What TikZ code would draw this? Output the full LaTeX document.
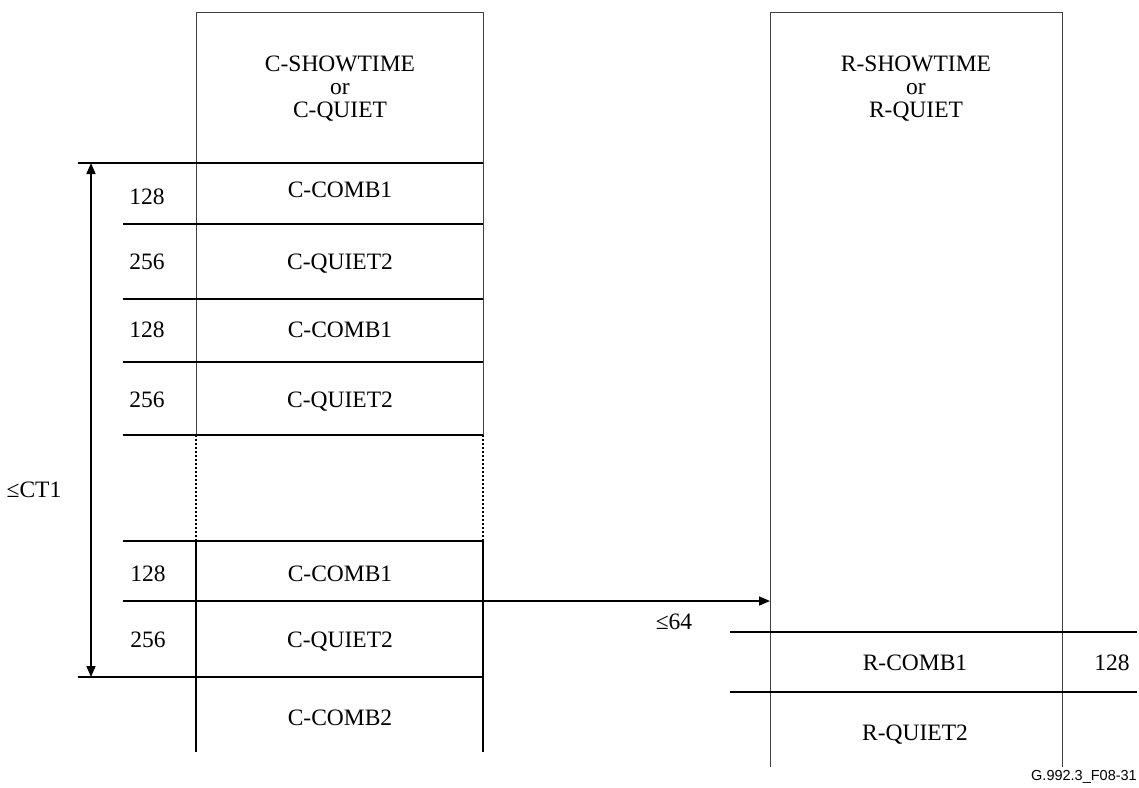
\documentclass[tikz,border=0pt]{standalone}
\usepackage{fontspec}
\setmainfont{Liberation Serif}
\newfontfamily\labelfont{Liberation Sans}
\usetikzlibrary{arrows.meta}
\begin{document}
\begin{tikzpicture}[x=1pt,y=-1pt,
  thinln/.style={line width=0.9pt,black!75},
  thickln/.style={line width=1.8pt},
  dotln/.style={line width=1.5pt,dash pattern=on 2pt off 2pt},
  txt/.style={inner sep=0pt,font=\fontsize{23.5}{23}\selectfont},
  hdr/.style={txt,align=center},
  arr/.style={line width=1.6pt,-{Triangle[length=11pt,width=9pt]}},
  darr/.style={line width=1.6pt,{Triangle[length=11pt,width=9pt]}-{Triangle[length=11pt,width=9pt]}}]
\useasboundingbox (0,0) rectangle (1139,787);
% left column frame
\coordinate (LTL) at (196,12);
\coordinate (LTR) at (483,12);
\draw[thinln] (196,435) -- (LTL) -- (LTR) -- (483,435);
\draw[dotln] (196,435) -- (196,541);
\draw[dotln] (483,435) -- (483,541);
\draw[thickln] (196,541) -- (196,752);
\draw[thickln] (483,541) -- (483,752);
% left horizontal lines
\draw[thickln] (78,163) -- (483,163);
\draw[thickln] (123,224) -- (483,224);
\draw[thickln] (123,299) -- (483,299);
\draw[thickln] (123,362) -- (483,362);
\draw[thickln] (123,435) -- (483,435);
\draw[thickln] (123,541) -- (483,541);
\draw[thickln] (78,677) -- (483,677);
% right column frame
\coordinate (RTL) at (770,12);
\coordinate (RTR) at (1062,12);
\draw[thinln] (770,767) -- (RTL) -- (RTR) -- (1062,767);
\draw[thickln] (730,632) -- (1137,632);
\draw[thickln] (730,692) -- (1137,692);
% headers
\node[hdr] (chdr) at (340,89) {C-SHOWTIME\\or\\C-QUIET};
\node[hdr] (rhdr) at (916,89) {R-SHOWTIME\\or\\R-QUIET};
% left labels
\node[txt] (n1) at (147,197) {128};
\node[txt] (c1) at (340,190) {C-COMB1};
\node[txt] (n2) at (147,262) {256};
\node[txt] (c2) at (340,264) {C-QUIET2};
\node[txt] (n3) at (147,330) {128};
\node[txt] (c3) at (340,330) {C-COMB1};
\node[txt] (n4) at (147,400) {256};
\node[txt] (c4) at (340,402) {C-QUIET2};
\node[txt] (n5) at (148,574) {128};
\node[txt] (c5) at (340,574) {C-COMB1};
\node[txt] (n6) at (148,640) {256};
\node[txt] (c6) at (340,642) {C-QUIET2};
\node[txt] (c7) at (340,718) {C-COMB2};
% right labels
\node[txt] (r1) at (915,663) {R-COMB1};
\node[txt] (rn1) at (1112,663) {128};
\node[txt] (r2) at (915,735) {R-QUIET2};
% dimension labels
\node[txt] (ct1) at (34,490) {≤CT1};
\node[txt] (d64) at (674,622) {≤64};
% arrows
\coordinate (atop) at (91,163);
\coordinate (abot) at (91,677);
\draw[darr] (atop) -- (abot);
\coordinate (hstart) at (123,601);
\coordinate (hend) at (770,601);
\draw[arr] (hstart) -- (hend);
% figure id
\node[inner sep=0pt,anchor=east,font=\labelfont\fontsize{14.5}{16}\selectfont] (fid) at (1137,777) {G.992.3\_F08-31};
\end{tikzpicture}
\end{document}
